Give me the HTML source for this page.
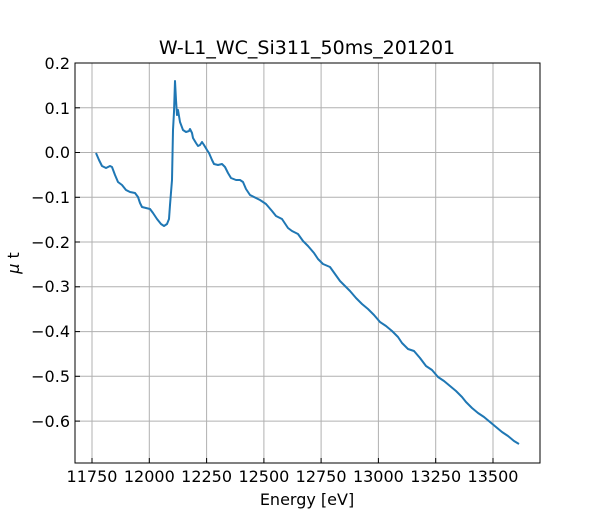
<!DOCTYPE html>
<html><head><meta charset="utf-8"><style>body{margin:0;background:#fff}</style></head><body>
<svg width="600" height="520" xmlns="http://www.w3.org/2000/svg" font-family="DejaVu Sans, Liberation Sans, sans-serif">
<rect width="600" height="520" fill="#fff"/>
<g stroke="#b0b0b0" stroke-width="1">
<line x1="92" y1="63" x2="92" y2="463"/><line x1="149.3" y1="63" x2="149.3" y2="463"/><line x1="206.6" y1="63" x2="206.6" y2="463"/><line x1="263.9" y1="63" x2="263.9" y2="463"/><line x1="321.1" y1="63" x2="321.1" y2="463"/><line x1="378.4" y1="63" x2="378.4" y2="463"/><line x1="435.7" y1="63" x2="435.7" y2="463"/><line x1="493" y1="63" x2="493" y2="463"/>
<line x1="75" y1="63" x2="540" y2="63"/><line x1="75" y1="107.8" x2="540" y2="107.8"/><line x1="75" y1="152.5" x2="540" y2="152.5"/><line x1="75" y1="197.3" x2="540" y2="197.3"/><line x1="75" y1="242" x2="540" y2="242"/><line x1="75" y1="286.8" x2="540" y2="286.8"/><line x1="75" y1="331.6" x2="540" y2="331.6"/><line x1="75" y1="376.3" x2="540" y2="376.3"/><line x1="75" y1="421.1" x2="540" y2="421.1"/>
</g>
<polyline fill="none" stroke="#1f77b4" stroke-width="2" stroke-linejoin="round" points="96,153 99,160 102,166 106,168 110,166 112,167 115,175 118,182 122,185 126,190 130,192 135,193 138,197 140,203 142,207 146,208 150,209 153,213 157,219 161,224 164,226 167,224 169,219 170,205 172,180 173,130 174,112 175,81 176,100 177,115 178,110 180,122 183,130 186,132 189,131 190,129 192,133 193,138 196,143 198,146 200,145 202,142 204,145 207,150 209,153 212,160 214,164 218,165 222,164 225,167 228,173 231,178 236,180 240,180 243,182 246,189 250,195 260,200 266,204 272,211 276,216 282,219 288,228 292,231 298,234 303,241 308,246 314,253 318,259 323,264 330,267 335,274 340,281 344,285 350,291 356,298 362,304 368,309 374,315 380,322 386,326 392,331 398,337 402,343 408,349 414,351 420,358 426,366 432,370 438,377 444,381 450,386 456,391 462,397 466,402 472,408 478,413 484,417 490,422 496,427 502,432 508,436 514,441 519,444"/>
<rect x="75" y="63" width="465" height="400" fill="none" stroke="#000" stroke-width="1"/>
<g stroke="#000" stroke-width="1">
<line x1="92" y1="463" x2="92" y2="458"/><line x1="149.3" y1="463" x2="149.3" y2="458"/><line x1="206.6" y1="463" x2="206.6" y2="458"/><line x1="263.9" y1="463" x2="263.9" y2="458"/><line x1="321.1" y1="463" x2="321.1" y2="458"/><line x1="378.4" y1="463" x2="378.4" y2="458"/><line x1="435.7" y1="463" x2="435.7" y2="458"/><line x1="493" y1="463" x2="493" y2="458"/>
<line x1="75" y1="63" x2="80" y2="63"/><line x1="75" y1="107.8" x2="80" y2="107.8"/><line x1="75" y1="152.5" x2="80" y2="152.5"/><line x1="75" y1="197.3" x2="80" y2="197.3"/><line x1="75" y1="242" x2="80" y2="242"/><line x1="75" y1="286.8" x2="80" y2="286.8"/><line x1="75" y1="331.6" x2="80" y2="331.6"/><line x1="75" y1="376.3" x2="80" y2="376.3"/><line x1="75" y1="421.1" x2="80" y2="421.1"/>
</g>
<g font-size="16" text-anchor="middle" fill="#000">
<text x="92" y="482">11750</text><text x="149.3" y="482">12000</text><text x="206.6" y="482">12250</text><text x="263.9" y="482">12500</text><text x="321.1" y="482">12750</text><text x="378.4" y="482">13000</text><text x="435.7" y="482">13250</text><text x="493" y="482">13500</text>
<text x="307" y="505">Energy [eV]</text>
<text x="307" y="54" font-size="19">W-L1_WC_Si311_50ms_201201</text>
</g>
<g font-size="16" text-anchor="end" fill="#000">
<text x="70" y="69">0.2</text><text x="70" y="114">0.1</text><text x="70" y="158">0.0</text><text x="70" y="203">−0.1</text><text x="70" y="248">−0.2</text><text x="70" y="292">−0.3</text><text x="70" y="337">−0.4</text><text x="70" y="382">−0.5</text><text x="70" y="427">−0.6</text>
</g>
<text x="19" y="263" font-size="16" text-anchor="middle" transform="rotate(-90 19 263)"><tspan font-style="italic">μ</tspan> t</text>
</svg>
</body></html>
